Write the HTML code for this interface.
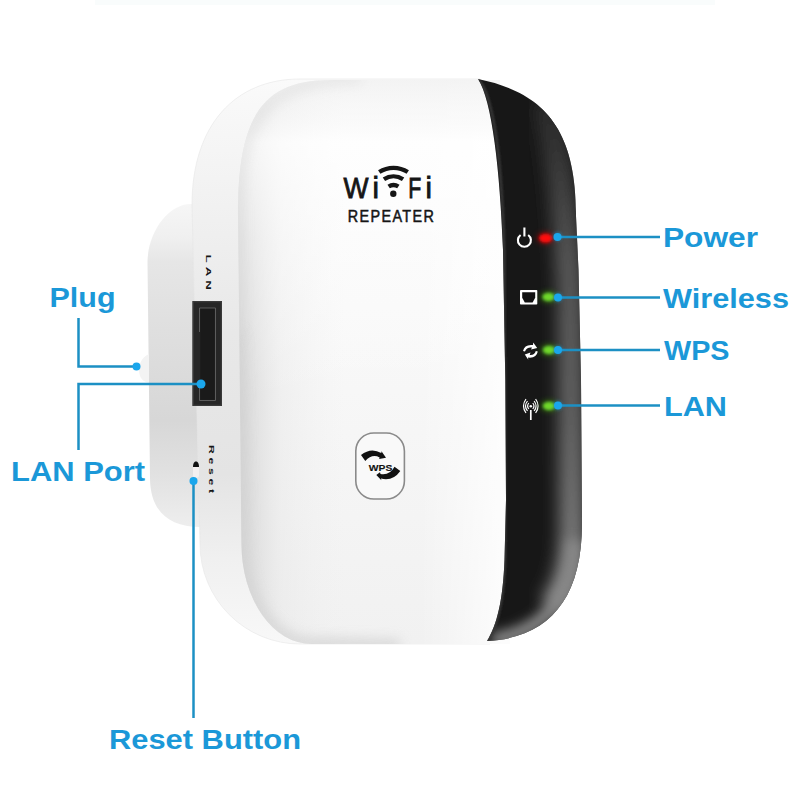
<!DOCTYPE html>
<html><head><meta charset="utf-8">
<style>
html,body{margin:0;padding:0;background:#fff;width:800px;height:800px;overflow:hidden}
svg{display:block}
text{font-family:"Liberation Sans",sans-serif}
</style></head>
<body>
<svg width="800" height="800" viewBox="0 0 800 800">
<defs>
  <linearGradient id="plugG" gradientUnits="userSpaceOnUse" x1="0" x2="0" y1="204" y2="527">
    <stop offset="0" stop-color="#f6f6f6"/>
    <stop offset="0.1" stop-color="#f0f0f0"/>
    <stop offset="0.18" stop-color="#e6e6e6"/>
    <stop offset="0.39" stop-color="#dfdfdf"/>
    <stop offset="0.67" stop-color="#d7d7d7"/>
    <stop offset="0.82" stop-color="#e0e0e0"/>
    <stop offset="1" stop-color="#eeeeee"/>
  </linearGradient>
  <linearGradient id="plugH" gradientUnits="userSpaceOnUse" x1="148" x2="192" y1="0" y2="0">
    <stop offset="0" stop-color="#fff" stop-opacity="0.35"/>
    <stop offset="0.25" stop-color="#fff" stop-opacity="0"/>
    <stop offset="0.85" stop-color="#000" stop-opacity="0"/>
    <stop offset="1" stop-color="#000" stop-opacity="0.05"/>
  </linearGradient>
  <linearGradient id="rimG" gradientUnits="userSpaceOnUse" x1="0" x2="0" y1="79" y2="644">
    <stop offset="0" stop-color="#fafafa"/>
    <stop offset="0.2" stop-color="#f2f2f2"/>
    <stop offset="0.45" stop-color="#e8e8e8"/>
    <stop offset="0.7" stop-color="#e4e4e4"/>
    <stop offset="0.85" stop-color="#f0f0f0"/>
    <stop offset="1" stop-color="#f8f8f8"/>
  </linearGradient>
  <linearGradient id="faceTop" gradientUnits="userSpaceOnUse" x1="0" x2="0" y1="78" y2="400">
    <stop offset="0" stop-color="#ececec" stop-opacity="0.6"/>
    <stop offset="0.1" stop-color="#f4f4f4" stop-opacity="0.5"/>
    <stop offset="0.2" stop-color="#fff" stop-opacity="0.7"/>
    <stop offset="0.5" stop-color="#fff" stop-opacity="0.35"/>
    <stop offset="1" stop-color="#fff" stop-opacity="0"/>
  </linearGradient>
  <linearGradient id="rimV" gradientUnits="userSpaceOnUse" x1="192" x2="242" y1="0" y2="0">
    <stop offset="0" stop-color="#000" stop-opacity="0.02"/>
    <stop offset="0.3" stop-color="#fff" stop-opacity="0.25"/>
    <stop offset="0.7" stop-color="#fff" stop-opacity="0.1"/>
    <stop offset="1" stop-color="#000" stop-opacity="0.02"/>
  </linearGradient>
  <linearGradient id="faceV" gradientUnits="userSpaceOnUse" x1="0" x2="0" y1="80" y2="644">
    <stop offset="0" stop-color="#fdfdfd"/>
    <stop offset="0.4" stop-color="#f9f9f9"/>
    <stop offset="1" stop-color="#f1f1f1"/>
  </linearGradient>
  <linearGradient id="faceH" gradientUnits="userSpaceOnUse" x1="238" x2="345" y1="0" y2="0">
    <stop offset="0" stop-color="#cccccc" stop-opacity="0.9"/>
    <stop offset="0.1" stop-color="#d6d6d6" stop-opacity="0.8"/>
    <stop offset="0.4" stop-color="#e4e4e4" stop-opacity="0.4"/>
    <stop offset="1" stop-color="#eeeeee" stop-opacity="0"/>
  </linearGradient>
  <clipPath id="faceClip"><path d="M330 80 L500 80 L510 644 L311.5 644 A70 100 0 0 1 241.5 544 L238 215 C238 120 260 80 330 80 Z"/></clipPath>
  <linearGradient id="faceR" gradientUnits="userSpaceOnUse" x1="420" x2="505" y1="0" y2="0">
    <stop offset="0" stop-color="#fff" stop-opacity="0"/>
    <stop offset="1" stop-color="#fff" stop-opacity="0.8"/>
  </linearGradient>
  <linearGradient id="blackG" gradientUnits="userSpaceOnUse" x1="500" x2="583" y1="0" y2="0">
    <stop offset="0" stop-color="#222"/>
    <stop offset="0.08" stop-color="#141414"/>
    <stop offset="0.55" stop-color="#161616"/>
    <stop offset="0.8" stop-color="#2c2c2c"/>
    <stop offset="0.95" stop-color="#4a4a4a"/>
    <stop offset="1" stop-color="#3a3a3a"/>
  </linearGradient>
  <linearGradient id="blackV" gradientUnits="userSpaceOnUse" x1="0" x2="0" y1="79" y2="640">
    <stop offset="0" stop-color="#000" stop-opacity="0.5"/>
    <stop offset="0.35" stop-color="#000" stop-opacity="0.1"/>
    <stop offset="0.7" stop-color="#000" stop-opacity="0"/>
    <stop offset="1" stop-color="#fff" stop-opacity="0.1"/>
  </linearGradient>
  <linearGradient id="hlV" gradientUnits="userSpaceOnUse" x1="0" x2="0" y1="90" y2="640">
    <stop offset="0" stop-color="#262626"/>
    <stop offset="0.15" stop-color="#3c3c3c"/>
    <stop offset="0.3" stop-color="#555"/>
    <stop offset="0.6" stop-color="#636363"/>
    <stop offset="0.85" stop-color="#7a7a7a"/>
    <stop offset="1" stop-color="#8a8a8a"/>
  </linearGradient>
  <filter id="blur8" x="-50%" y="-50%" width="200%" height="200%"><feGaussianBlur stdDeviation="8"/></filter>
  <filter id="blur6" x="-50%" y="-50%" width="200%" height="200%"><feGaussianBlur stdDeviation="6"/></filter>
  <filter id="blur1" x="-50%" y="-50%" width="200%" height="200%"><feGaussianBlur stdDeviation="1"/></filter>
  <filter id="glow" x="-100%" y="-100%" width="300%" height="300%"><feGaussianBlur stdDeviation="1.6"/></filter>
  <filter id="glow2" x="-100%" y="-100%" width="300%" height="300%"><feGaussianBlur stdDeviation="3"/></filter>
</defs>

<rect x="95" y="0" width="620" height="5" fill="#f9fcfc"/>
<!-- plug part behind -->
<path d="M191 204 C168 204 148 232 147.5 262 L150 478 C150 510 168 527 200 527 L240 527 L240 204 Z" fill="url(#plugG)"/>
<path d="M149 354 C141 357 137 367 140 376 C142 381 146 382 149 383 Z" fill="#f3f3f3"/>

<!-- outer rim body -->
<path id="rimP" d="M300 79 L480 79 L490 644 L300 644 A100 100 0 0 1 200 544 L192 205 C192 125 235 79 300 79 Z" fill="url(#rimG)" stroke="#e6e6e6" stroke-width="0.6"/>

<!-- inner face -->
<path d="M330 80 L500 80 L510 644 L311.5 644 A70 100 0 0 1 241.5 544 L238 215 C238 120 260 80 330 80 Z" fill="url(#faceV)"/>
<path d="M330 80 L500 80 L510 644 L311.5 644 A70 100 0 0 1 241.5 544 L238 215 C238 120 260 80 330 80 Z" fill="url(#faceH)"/>
<path d="M330 80 L500 80 L510 644 L311.5 644 A70 100 0 0 1 241.5 544 L238 215 C238 120 260 80 330 80 Z" fill="url(#faceR)"/>
<path d="M330 80 L500 80 L510 644 L311.5 644 A70 100 0 0 1 241.5 544 L238 215 C238 120 260 80 330 80 Z" fill="url(#faceTop)"/>
<g clip-path="url(#faceClip)">
  <path d="M237 330 L241.5 544 A70 100 0 0 0 311.5 644 L400 646" stroke="#d4d4d4" stroke-width="14" fill="none" filter="url(#blur6)" opacity="0.8"/>
  <path d="M360 79 C262 79 238 120 238 215 L238.5 340" stroke="#dadada" stroke-width="8" fill="none" filter="url(#blur6)" opacity="0.6"/>
</g>

<!-- black part -->
<clipPath id="blkClip"><path d="M478 79 C540.3 91.7 576.7 125.3 576 216 L578.5 270 L581 380 L582 520 C583 600 548 638 487 641 C497 625 503 600 504.5 560 L506 500 L505.3 380 L503 250 C500 170 492 100 478 79 Z"/></clipPath>
<path d="M478 79 C540.3 91.7 576.7 125.3 576 216 L578.5 270 L581 380 L582 520 C583 600 548 638 487 641 C497 625 503 600 504.5 560 L506 500 L505.3 380 L503 250 C500 170 492 100 478 79 Z" fill="#171717"/>
<g clip-path="url(#blkClip)">
  <path d="M544 100 C560 150 567 230 570 300 L572 520 C573 560 566 590 550 608" stroke="url(#hlV)" stroke-width="26" fill="none" filter="url(#blur8)"/>
  <path d="M574 540 C575 595 545 632 492 640" stroke="#8a8a8a" stroke-width="14" fill="none" filter="url(#blur6)"/>
  <path d="M479 80 C495 100 502 170 504 250 L505 540 C505 600 498 625 487 640" stroke="#3a3a3a" stroke-width="2.5" fill="none" filter="url(#blur1)"/>
</g>

<!-- LAN port -->
<rect x="192.5" y="301" width="29.5" height="105" fill="#262626"/>
<rect x="193.2" y="301.7" width="28.1" height="103.6" fill="none" stroke="#3c3c3c" stroke-width="1.2"/>
<path d="M199.5 332 V308 H215.5 V400.5 H199.5 V388" fill="none" stroke="#5c5c5c" stroke-width="1"/>
<rect x="200.3" y="308.8" width="14.4" height="91" fill="#1a1a1a"/>

<!-- side texts -->
<g transform="translate(206.3 254.5) rotate(90) scale(1.72 1)">
<text x="0" y="0" font-size="7.8" font-weight="bold" fill="#151515" stroke="#151515" stroke-width="0" letter-spacing="2.3">LAN</text>
</g>
<g transform="translate(208.6 445) rotate(90) scale(1.75 1)">
<text x="0" y="0" font-size="7" font-weight="bold" fill="#151515" stroke="#151515" stroke-width="0" letter-spacing="2.1">Reset</text>
</g>
<!-- reset hole -->
<rect x="193" y="463" width="6" height="15" rx="3" ry="3" fill="#f4f0f0"/>
<path d="M193 467 C193 463 194.5 461.5 196 461.5 C197.5 461.5 199 463 199 467 Z" fill="#111"/>

<!-- WiFi logo -->
<g fill="#151515" stroke="#151515" stroke-width="0.85" font-size="29">
  <text x="343.6" y="198.1" textLength="25" lengthAdjust="spacingAndGlyphs">W</text>
  <text x="372.6" y="198.1">i</text>
  <text x="408.3" y="198.1" textLength="13" lengthAdjust="spacingAndGlyphs">F</text>
  <text x="425.5" y="198.1">i</text>
</g>
<g fill="none" stroke="#151515" stroke-width="4.3" stroke-linecap="butt">
  <path d="M379.23 172.03 A26.2 26.2 0 0 1 407.77 172.03"/>
  <path d="M383.92 179.24 A17.6 17.6 0 0 1 403.08 179.24"/>
  <path d="M388.65 186.54 A8.9 8.9 0 0 1 398.35 186.54"/>
</g>
<circle cx="393.3" cy="193.8" r="3.2" fill="#151515"/>
<g transform="translate(347.8 221.8) scale(0.87 1)"><text x="0" y="0" font-size="16.5" fill="#151515" stroke="#151515" stroke-width="0.55" letter-spacing="1.6">REPEATER</text></g>

<!-- WPS button -->
<rect x="355.8" y="433" width="48.6" height="66" rx="18" ry="18" fill="#f9f9f9" stroke="#8a8a8a" stroke-width="1.6"/>
<text x="368.8" y="471" font-size="9.8" font-weight="bold" fill="#111" stroke="#111" stroke-width="0.15" textLength="23.5" lengthAdjust="spacingAndGlyphs">WPS</text>
<path d="M361 455 Q371 447 381.3 453 L381.5 451.3 L386 457.8 L379.2 459 L379.6 457.4 Q372 453.5 365.3 461 Z" fill="#111"/>
<path d="M400.3 471 Q393 481.5 381 478.6 L381.4 480.2 L376.3 475 L380 472.3 L380.5 474 Q390 475.5 394.5 466.8 Z" fill="#111"/>

<!-- LED icons -->
<g stroke="#fff" fill="none" stroke-width="2.1">
  <path d="M520.6 235 A6.5 6.5 0 1 0 528.2 235"/>
  <line x1="524.4" y1="227.5" x2="524.4" y2="236.5"/>
</g>
<rect x="520" y="290" width="17.3" height="14.5" rx="0.8" fill="#fff"/>
<path d="M522.2 292.2 H535.2 V297.8 L532.6 302.6 H524.8 L522.2 297.8 Z" fill="#111"/>
<g fill="#fff">
  <path d="M523 351 Q524.5 344 533 345 L533.2 342.5 L537.2 348 L531 349.5 L532 347.5 Q526.5 347 525 351.5 Z"/>
  <path d="M537.8 351.5 Q536.5 358.5 528 357.5 L528.3 359.8 L524.8 354.5 L530.5 352.5 L529.7 355 Q534.5 355.5 535.8 351 Z"/>
</g>
<g stroke="#fff" fill="none" stroke-width="1.2">
  <path d="M526 399 Q521 406 526 413"/>
  <path d="M527.5 401 Q523.5 406 527.5 411"/>
  <path d="M528.8 403 Q526.4 406 528.8 409"/>
  <path d="M535.6 399 Q540.6 406 535.6 413"/>
  <path d="M534.1 401 Q538.1 406 534.1 411"/>
  <path d="M532.8 403 Q535.2 406 532.8 409"/>
  <line x1="530.8" y1="410" x2="530.8" y2="420" stroke-width="1.7"/>
</g>
<circle cx="530.8" cy="406.2" r="1.3" fill="#fff"/>

<!-- LEDs -->
<g filter="url(#glow2)" opacity="0.7">
  <ellipse cx="545.5" cy="238" rx="8" ry="5" fill="#c00"/>
  <ellipse cx="548.5" cy="297" rx="8" ry="5" fill="#3a9a10"/>
  <ellipse cx="549" cy="350" rx="8" ry="5" fill="#3a9a10"/>
  <ellipse cx="549" cy="406" rx="8" ry="5" fill="#3a9a10"/>
</g>
<g filter="url(#glow)">
  <ellipse cx="545.7" cy="238.2" rx="6.5" ry="4.2" fill="#ff1010"/>
  <ellipse cx="548.5" cy="297" rx="6" ry="4" fill="#70d82a"/>
  <ellipse cx="549" cy="350" rx="6" ry="4" fill="#70d82a"/>
  <ellipse cx="549" cy="406" rx="6" ry="4" fill="#70d82a"/>
</g>

<!-- callout lines -->
<g stroke="#1c90c4" stroke-width="2.5" fill="none">
  <path d="M557.5 237 H660"/>
  <path d="M558 297.5 H660"/>
  <path d="M558 350 H660"/>
  <path d="M558 405.5 H660"/>
  <path d="M78.5 318 V366.5 H136"/>
  <path d="M78.5 450 V384 H201"/>
  <path d="M193.5 481 V718"/>
</g>
<g fill="#1aa6ec" opacity="0.35" filter="url(#glow)">
  <circle cx="557.5" cy="236.5" r="5"/>
  <circle cx="558" cy="297.5" r="5"/>
  <circle cx="558" cy="350" r="5"/>
  <circle cx="558" cy="405.5" r="5"/>
</g>
<g fill="#1aa6ec">
  <circle cx="557.5" cy="237" r="4"/>
  <circle cx="558" cy="297.5" r="4"/>
  <circle cx="558" cy="350" r="4"/>
  <circle cx="558" cy="405.5" r="4"/>
  <circle cx="136.5" cy="366.5" r="4"/>
  <circle cx="201" cy="384" r="4.5"/>
  <circle cx="193.5" cy="481" r="4"/>
</g>

<!-- labels -->
<g fill="#1b98d8" font-weight="bold" font-size="27.5">
  <text x="663" y="247" textLength="95" lengthAdjust="spacingAndGlyphs">Power</text>
  <text x="663" y="308" textLength="126" lengthAdjust="spacingAndGlyphs">Wireless</text>
  <text x="664" y="359.5" textLength="65.5" lengthAdjust="spacingAndGlyphs">WPS</text>
  <text x="664" y="415.5" textLength="63" lengthAdjust="spacingAndGlyphs">LAN</text>
  <text x="49.5" y="307" textLength="66" lengthAdjust="spacingAndGlyphs">Plug</text>
  <text x="11" y="481" textLength="134" lengthAdjust="spacingAndGlyphs">LAN Port</text>
  <text x="109" y="749" textLength="192" lengthAdjust="spacingAndGlyphs">Reset Button</text>
</g>
</svg>
</body></html>
